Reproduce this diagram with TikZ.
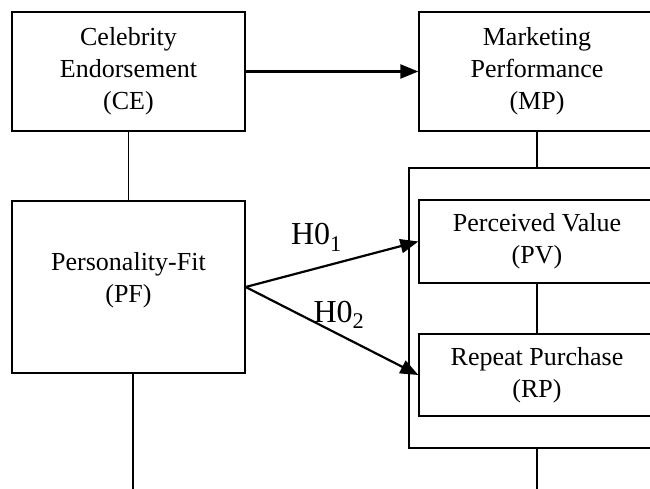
\documentclass[tikz,border=0pt]{standalone}
\usepackage{fontspec}
\setmainfont{Liberation Serif}
\usetikzlibrary{positioning, arrows.meta}

\tikzset{
  construct/.style={draw, line width=1.3pt, align=center, inner sep=0pt, font=\fontsize{26}{32}\selectfont},
  link/.style={line width=1.3pt},
  effect/.style={line width=2.2pt, -{Triangle[length=18pt, width=14pt]}},
  hyp/.style={font=\fontsize{32}{36}\selectfont, inner sep=0pt}
}

\begin{document}
\begin{tikzpicture}[x=1pt, y=-1pt]
    \useasboundingbox (0,0) rectangle (650,489);
    \clip (0,0) rectangle (650,489);

    % Left column - independent constructs
    \node[construct, minimum width=233pt, minimum height=119pt] (ce) at (128.5,71.5) {Celebrity\\Endorsement\\(CE)};
    \node[construct, minimum width=233pt, minimum height=172pt] (pf) at (128.5,287) {Personality-Fit\\(PF)\\[-12pt]\mbox{}};

    % Right column - outcome constructs
    \node[construct, minimum width=236pt, minimum height=119pt] (mp) at (537,71.5) {Marketing\\Performance\\(MP)};
    \node[draw, link, minimum width=256pt, minimum height=280pt] (outcome) at (537,308) {};
    \node[construct, minimum width=236pt, minimum height=83pt] (pv) at (537,241.5) {Perceived Value\\(PV)};
    \node[construct, minimum width=236pt, minimum height=82pt] (rp) at (537,375) {Repeat Purchase\\(RP)};

    % Plain links
    \coordinate (pfout) at (133,495);
    \coordinate (outcomeout) at (537,495);
    \draw[link] (ce) -- (pf);
    \draw[link] (mp) -- (outcome);
    \draw[link] (pv) -- (rp);
    \draw[link] (pfout |- pf.south) -- (pfout);
    \draw[link] (outcome.south) -- (outcomeout);

    % Hypothesised effects
    \draw[effect] (ce.east) -- (mp.west);
    \draw[effect] (pf.east) -- (pv.west) node[hyp, pos=.41, yshift=31pt] {H0\textsubscript{1}};
    \draw[effect] (pf.east) -- (rp.west) node[hyp, pos=.54, yshift=20pt] {H0\textsubscript{2}};
\end{tikzpicture}
\end{document}
